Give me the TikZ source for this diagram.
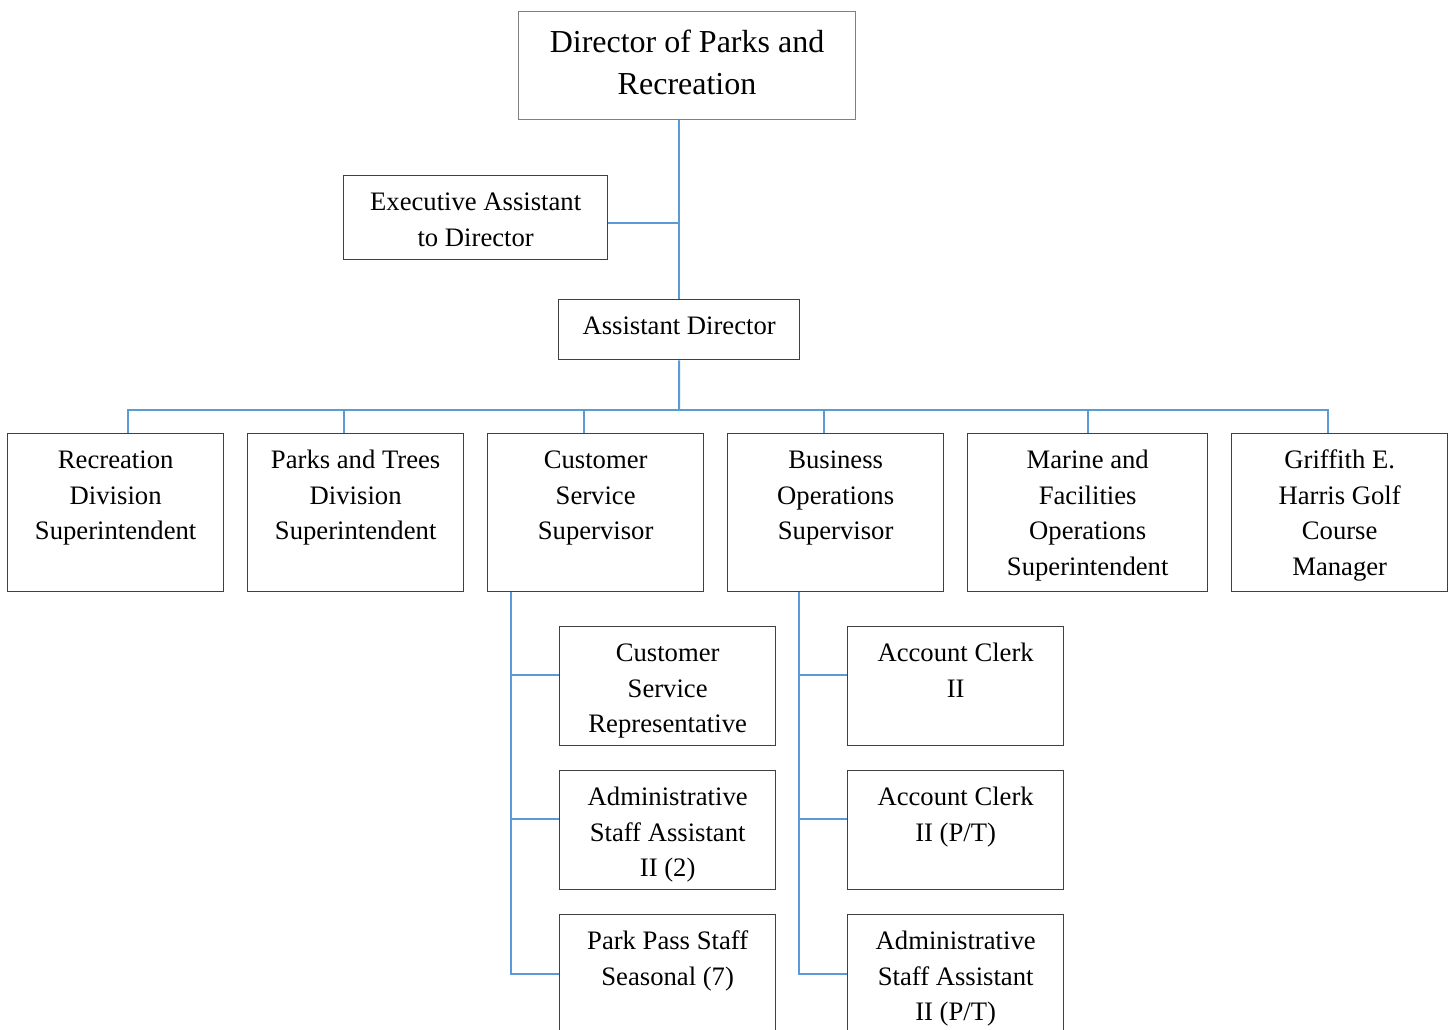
\documentclass[tikz,border=0pt]{standalone}
\usepackage{fontspec}
\setmainfont{Liberation Serif}
\definecolor{linkblue}{HTML}{5B9BD5}
\definecolor{boxline}{HTML}{404040}
\definecolor{topline}{HTML}{808080}
\begin{document}
\begin{tikzpicture}[x=0.75pt, y=-0.75pt,
  post/.style={draw=boxline, line width=1pt, inner sep=0pt, anchor=north west,
    align=flush center, text height=26.25pt, font=\fontsize{20}{26.6}\selectfont},
  head/.style={post, text width=162pt, text depth=92.25pt},
  staff/.style={post, text width=162pt, text depth=63pt},
  link/.style={draw=linkblue, line width=1.5pt}]
\useasboundingbox (0,0) rectangle (1453,1030);
\node[post, draw=topline, line width=0.8pt, text width=252.75pt, text height=30.75pt,
  text depth=50.25pt, font=\fontsize{24}{31.5}\selectfont] (dir) at (518,11)
  {Director of Parks and\\Recreation};
\node[post, text width=198pt, text depth=36.75pt] (exec) at (343,175)
  {Executive Assistant\\to Director};
\node[post, text width=180.75pt, text depth=18.75pt] (asst) at (558,299) {Assistant Director};
\node[head] (rec) at (7,433) {Recreation\\Division\\Superintendent};
\node[head] (parks) at (247,433) {Parks and Trees\\Division\\Superintendent};
\node[head] (cust) at (487,433) {Customer\\Service\\Supervisor};
\node[head] (busi) at (727,433) {Business\\Operations\\Supervisor};
\node[head, text width=180pt] (marine) at (967,433)
  {Marine and\\Facilities\\Operations\\Superintendent};
\node[head] (golf) at (1231,433) {Griffith E.\\Harris Golf\\Course\\Manager};
\node[staff] (csr) at (559,626) {Customer\\Service\\Representative};
\node[staff] (asa) at (559,770) {Administrative\\Staff Assistant\\II (2)};
\node[staff] (pps) at (559,914) {Park Pass Staff\\Seasonal (7)};
\node[staff] (clerk) at (847,626) {Account Clerk\\II};
\node[staff] (clerkpt) at (847,770) {Account Clerk\\II (P/T)};
\node[staff] (asapt) at (847,914) {Administrative\\Staff Assistant\\II (P/T)};
\coordinate (bus) at (679,410);
\coordinate (ctrunk) at ([xshift=18pt]cust.south west);
\coordinate (btrunk) at ([xshift=54pt]busi.south west);
\draw[link] (asst.north) -- (asst.north |- dir.south);
\draw[link] ([yshift=-3.75pt]exec.east) -- ([yshift=-3.75pt]exec.east -| asst.north);
\draw[link] (asst.south) -- (bus);
\draw[link] (bus) -| ([xshift=9pt]rec.north);
\draw[link] (bus) -| ([xshift=-9pt]parks.north);
\draw[link] (bus) -| ([xshift=-9pt]cust.north);
\draw[link] (bus) -| ([xshift=-9pt]busi.north);
\draw[link] (bus) -| (marine.north);
\draw[link] (bus) -| ([xshift=-9pt]golf.north);
\draw[link] (ctrunk) |- (pps.west);
\draw[link] ([yshift=8.6pt]csr.west) -| (ctrunk);
\draw[link] ([yshift=8.6pt]asa.west) -| (ctrunk);
\draw[link] (btrunk) |- (asapt.west);
\draw[link] ([yshift=8.6pt]clerk.west) -| (btrunk);
\draw[link] ([yshift=8.6pt]clerkpt.west) -| (btrunk);
\end{tikzpicture}
\end{document}
